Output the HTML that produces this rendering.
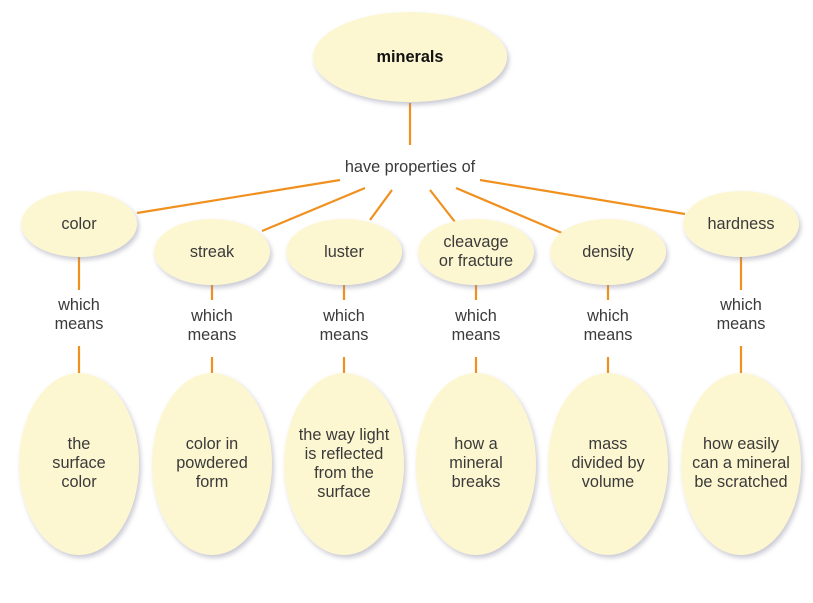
<!DOCTYPE html>
<html><head><meta charset="utf-8"><style>
html,body{margin:0;padding:0;background:#fff;}
svg{display:block;}
text{font-family:"Liberation Sans",sans-serif;font-size:16.3px;fill:#3a3a3a;text-anchor:middle;}
</style></head><body>
<svg width="813" height="603" viewBox="0 0 813 603" xmlns="http://www.w3.org/2000/svg">
<defs>
<filter id="sh" x="-20%" y="-20%" width="140%" height="140%">
<feDropShadow dx="2" dy="3" stdDeviation="2.5" flood-color="#8a8aa0" flood-opacity="0.45"/>
</filter>
</defs>
<g stroke="#f0901e" stroke-width="2.2" fill="none">
<line x1="410" y1="103" x2="410" y2="145"/>
<line x1="137" y1="213" x2="340" y2="180"/>
<line x1="262" y1="231" x2="365" y2="188"/>
<line x1="370" y1="220" x2="392" y2="190"/>
<line x1="430" y1="190" x2="455" y2="222"/>
<line x1="456" y1="188" x2="562" y2="233"/>
<line x1="480" y1="180" x2="685" y2="214"/>
<line x1="79" y1="257" x2="79" y2="290"/>
<line x1="79" y1="346" x2="79" y2="373"/>
<line x1="741" y1="257" x2="741" y2="290"/>
<line x1="741" y1="346" x2="741" y2="373"/>
<line x1="212" y1="285" x2="212" y2="300"/>
<line x1="212" y1="357" x2="212" y2="373"/>
<line x1="344" y1="285" x2="344" y2="300"/>
<line x1="344" y1="357" x2="344" y2="373"/>
<line x1="476" y1="285" x2="476" y2="300"/>
<line x1="476" y1="357" x2="476" y2="373"/>
<line x1="608" y1="285" x2="608" y2="300"/>
<line x1="608" y1="357" x2="608" y2="373"/>
</g>
<g fill="#fdf7d1" filter="url(#sh)">
<ellipse cx="410" cy="57" rx="97" ry="45"/>
<ellipse cx="79" cy="224" rx="58" ry="33"/>
<ellipse cx="212" cy="252" rx="58" ry="33"/>
<ellipse cx="344" cy="252" rx="58" ry="33"/>
<ellipse cx="476" cy="252" rx="58" ry="33"/>
<ellipse cx="608" cy="252" rx="58" ry="33"/>
<ellipse cx="741" cy="224" rx="58" ry="33"/>
<ellipse cx="79" cy="464" rx="60" ry="91"/>
<ellipse cx="212" cy="464" rx="60" ry="91"/>
<ellipse cx="344" cy="464" rx="60" ry="91"/>
<ellipse cx="476" cy="464" rx="60" ry="91"/>
<ellipse cx="608" cy="464" rx="60" ry="91"/>
<ellipse cx="741" cy="464" rx="60" ry="91"/>
</g>
<text x="410" y="62" style="font-weight:bold;fill:#111">minerals</text>
<text x="410" y="172">have properties of</text>
<text x="79" y="229">color</text>
<text x="212" y="257">streak</text>
<text x="344" y="257">luster</text>
<text x="476" y="247">cleavage</text>
<text x="476" y="266">or fracture</text>
<text x="608" y="257">density</text>
<text x="741" y="229">hardness</text>
<text x="79" y="310">which</text><text x="79" y="329">means</text>
<text x="741" y="310">which</text><text x="741" y="329">means</text>
<text x="212" y="321">which</text><text x="212" y="340">means</text>
<text x="344" y="321">which</text><text x="344" y="340">means</text>
<text x="476" y="321">which</text><text x="476" y="340">means</text>
<text x="608" y="321">which</text><text x="608" y="340">means</text>
<text x="79" y="449">the</text><text x="79" y="468">surface</text><text x="79" y="487">color</text>
<text x="212" y="449">color in</text><text x="212" y="468">powdered</text><text x="212" y="487">form</text>
<text x="344" y="440">the way light</text><text x="344" y="459">is reflected</text><text x="344" y="478">from the</text><text x="344" y="497">surface</text>
<text x="476" y="449">how a</text><text x="476" y="468">mineral</text><text x="476" y="487">breaks</text>
<text x="608" y="449">mass</text><text x="608" y="468">divided by</text><text x="608" y="487">volume</text>
<text x="741" y="449">how easily</text><text x="741" y="468">can a mineral</text><text x="741" y="487">be scratched</text>
</svg>
</body></html>
